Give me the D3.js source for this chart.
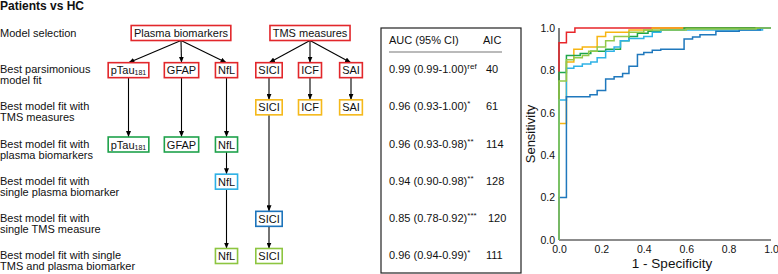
<!DOCTYPE html>
<html>
<head>
<meta charset="utf-8">
<script src="https://cdn.jsdelivr.net/npm/d3@7"></script>
<style>
  body { margin: 0; background: #fff; }
  text { font-family: "Liberation Sans", Arial, sans-serif; fill: #111; }
</style>
</head>
<body>
<div id="chart"></div>
<script>
// ---- data ----
const rowLabels = [
  ['Model selection'],
  ['Best parsimonious', 'model fit'],
  ['Best model fit with', 'TMS measures'],
  ['Best model fit with', 'plasma biomarkers'],
  ['Best model fit with', 'single plasma biomarker'],
  ['Best model fit with', 'single TMS measure'],
  ['Best model fit with single', 'TMS and plasma biomarker']
];
const rowColors = ['#e2272b', '#e2272b', '#f5b91a', '#1fa24b', '#2cb0e5', '#1d74bb', '#8dc540'];

const nodes = [
  { id: 'plasma', label: 'Plasma biomarkers', row: 0, col: 'plasma' },
  { id: 'tms', label: 'TMS measures', row: 0, col: 'tms' },
  { id: 'p1', label: 'pTau', sub: '181', row: 1, col: 'pTau' },
  { id: 'g1', label: 'GFAP', row: 1, col: 'GFAP' },
  { id: 'n1', label: 'NfL', row: 1, col: 'NfL' },
  { id: 's1', label: 'SICI', row: 1, col: 'SICI' },
  { id: 'i1', label: 'ICF', row: 1, col: 'ICF' },
  { id: 'a1', label: 'SAI', row: 1, col: 'SAI' },
  { id: 's2', label: 'SICI', row: 2, col: 'SICI' },
  { id: 'i2', label: 'ICF', row: 2, col: 'ICF' },
  { id: 'a2', label: 'SAI', row: 2, col: 'SAI' },
  { id: 'p3', label: 'pTau', sub: '181', row: 3, col: 'pTau' },
  { id: 'g3', label: 'GFAP', row: 3, col: 'GFAP' },
  { id: 'n3', label: 'NfL', row: 3, col: 'NfL' },
  { id: 'n4', label: 'NfL', row: 4, col: 'NfL' },
  { id: 's5', label: 'SICI', row: 5, col: 'SICI' },
  { id: 'n6', label: 'NfL', row: 6, col: 'NfL' },
  { id: 's6', label: 'SICI', row: 6, col: 'SICI' }
];
const edges = [
  ['plasma', 'p1'], ['plasma', 'g1'], ['plasma', 'n1'],
  ['tms', 's1'], ['tms', 'i1'], ['tms', 'a1'],
  ['s1', 's2'], ['i1', 'i2'], ['a1', 'a2'],
  ['p1', 'p3'], ['g1', 'g3'], ['n1', 'n3'],
  ['n3', 'n4'], ['n4', 'n6'],
  ['s2', 's5'], ['s5', 's6']
];

const aucText = ['0.99 (0.99-1.00)', '0.96 (0.93-1.00)', '0.96 (0.93-0.98)',
                 '0.94 (0.90-0.98)', '0.85 (0.78-0.92)', '0.96 (0.94-0.99)'];
const aucSup = ['ref', '*', '**', '**', '***', '*'];
const aicValues = [40, 61, 114, 128, 120, 111];

// ROC curves (1 - specificity, sensitivity), drawn as steps
const rocRed = [[0,0],[0,0.93],[0.035,0.98],[0.075,1],[1,1]];
const rocYellow = [[0,0],[0,0.55],[0.035,0.84],[0.07,0.90],[0.11,0.91],[0.18,0.96],[0.22,0.98],[0.33,0.99],[0.44,1],[1,1]];
const rocGreen = [[0,0],[0,0.79],[0.035,0.87],[0.1,0.88],[0.15,0.89],[0.22,0.90],[0.29,0.94],[0.33,0.96],[0.37,0.975],[0.42,0.985],[0.48,0.99],[0.59,1],[1,1]];
const rocLightBlue = [[0,0],[0,0.66],[0.035,0.81],[0.07,0.82],[0.11,0.83],[0.15,0.84],[0.18,0.86],[0.22,0.89],[0.26,0.91],[0.29,0.94],[0.33,0.95],[0.4,0.96],[0.44,0.98],[0.48,0.99],[0.96,1],[1,1]];
const rocDarkBlue = [[0,0],[0,0.2],[0.035,0.676],[0.146,0.685],[0.18,0.705],[0.22,0.76],[0.26,0.77],[0.3,0.785],[0.33,0.82],[0.37,0.875],[0.4,0.885],[0.44,0.895],[0.48,0.90],[0.59,0.948],[0.63,0.958],[0.665,0.968],[0.74,0.985],[0.85,0.99],[0.95,1],[1,1]];
const rocLightGreen = [[0,0],[0,0.75],[0.035,0.85],[0.07,0.86],[0.11,0.87],[0.14,0.89],[0.18,0.91],[0.22,0.94],[0.26,0.96],[0.33,0.98],[0.4,0.99],[0.6,0.995],[0.93,1],[1,1]];
const rocCurves = [rocRed, rocYellow, rocGreen, rocLightBlue, rocDarkBlue, rocLightGreen];
const rocColors = ['#e8262a', '#f7b512', '#1fa64b', '#2fb2e6', '#1f78bd', '#93c94a'];

const ticks = [0, 0.2, 0.4, 0.6, 0.8, 1.0];

// ---- layout ----
const width = 778, height = 274;
const svg = d3.select('#chart').append('svg')
  .attr('width', width).attr('height', height);

svg.append('text')
  .attr('x', 0).attr('y', 10)
  .attr('font-size', 12).attr('font-weight', 'bold')
  .text('Patients vs HC');

const rowY = d3.scaleLinear().domain([0, 6]).range([33, 256]);
const colX = d3.scaleOrdinal()
  .domain(['plasma', 'tms', 'pTau', 'GFAP', 'NfL', 'SICI', 'ICF', 'SAI'])
  .range([181, 310, 128.5, 181.5, 226.5, 269, 310, 351]);

// row labels
const labels = svg.append('g').attr('font-size', 11);
rowLabels.forEach((lines, i) => {
  const t = labels.append('text').attr('x', 0);
  if (lines.length === 1) {
    t.attr('y', rowY(i) + 4).text(lines[0]);
  } else {
    lines.forEach((l, j) => t.append('tspan').attr('x', 0)
      .attr('y', rowY(i) + 3 + j * 11).text(l));
  }
});

// arrow marker
svg.append('defs').append('marker')
  .attr('id', 'arr').attr('markerUnits', 'userSpaceOnUse')
  .attr('markerWidth', 6).attr('markerHeight', 5)
  .attr('refX', 6).attr('refY', 2.5).attr('orient', 'auto')
  .append('path').attr('d', 'M0,0L6,2.5L0,5Z').attr('fill', '#000');

const boxH = 15;
const nodeById = new Map(nodes.map(d => [d.id, d]));

svg.append('g').selectAll('line')
  .data(edges)
  .join('line')
  .attr('x1', d => colX(nodeById.get(d[0]).col))
  .attr('y1', d => rowY(nodeById.get(d[0]).row) + boxH / 2)
  .attr('x2', d => colX(nodeById.get(d[1]).col))
  .attr('y2', d => rowY(nodeById.get(d[1]).row) - boxH / 2)
  .attr('stroke', '#000').attr('stroke-width', 1.1)
  .attr('marker-end', 'url(#arr)');

const ng = svg.append('g').selectAll('g')
  .data(nodes)
  .join('g')
  .attr('transform', d => `translate(${colX(d.col)},${rowY(d.row)})`);

const rects = ng.append('rect')
  .attr('fill', '#fff')
  .attr('stroke', d => rowColors[d.row])
  .attr('stroke-width', 1.6);

const nt = ng.append('text')
  .attr('font-size', 11)
  .attr('text-anchor', 'middle')
  .attr('y', 4);
nt.append('tspan').text(d => d.label);
nt.filter(d => d.sub).append('tspan')
  .attr('font-size', 7).attr('dy', 1).text(d => d.sub);

nt.each(function (d) { d.w = this.getBBox().width; });
rects
  .attr('x', d => -(d.w + 5) / 2)
  .attr('y', -boxH / 2)
  .attr('width', d => d.w + 5)
  .attr('height', boxH);

// ---- table ----
const tbl = svg.append('g');
tbl.append('rect')
  .attr('x', 381).attr('y', 28).attr('width', 140).attr('height', 245)
  .attr('fill', 'none').attr('stroke', '#222').attr('stroke-width', 1.2);
tbl.append('text').attr('x', 389).attr('y', 44).attr('font-size', 11).text('AUC (95% CI)');
tbl.append('text').attr('x', 483).attr('y', 44).attr('font-size', 11).text('AIC');
tbl.append('line').attr('x1', 389).attr('x2', 502).attr('y1', 52).attr('y2', 52)
  .attr('stroke', '#777').attr('stroke-width', 1.2);

aucText.forEach((t, i) => {
  const y = rowY(i + 1) + 3;
  const tx = tbl.append('text').attr('x', 389).attr('y', y).attr('font-size', 11);
  tx.append('tspan').text(t);
  tx.append('tspan').attr('font-size', 8).attr('dy', -4).text(aucSup[i]);
  tbl.append('text').attr('x', i === 4 ? 488 : 486).attr('y', y)
    .attr('font-size', 11).text(aicValues[i]);
});

// ---- ROC ----
const x = d3.scaleLinear().domain([0, 1]).range([559, 771]);
const y = d3.scaleLinear().domain([0, 1]).range([240, 28]);

const line = d3.line()
  .x(d => x(d[0])).y(d => y(d[1]))
  .curve(d3.curveStepAfter);

svg.append('line')
  .attr('x1', x(0)).attr('x2', x(0)).attr('y1', y(0)).attr('y2', y(1))
  .attr('stroke', '#555').attr('stroke-width', 1.5);
svg.append('line')
  .attr('x1', x(0)).attr('x2', x(1)).attr('y1', y(0)).attr('y2', y(0))
  .attr('stroke', '#666').attr('stroke-width', 1.5);

svg.append('g').selectAll('path')
  .data(rocCurves)
  .join('path')
  .attr('d', line)
  .attr('fill', 'none')
  .attr('stroke', (d, i) => rocColors[i])
  .attr('stroke-width', 1.5);

const xAxis = svg.append('g')
  .attr('transform', `translate(0,${y(0)})`)
  .call(d3.axisBottom(x).tickValues(ticks).tickFormat(d3.format('.1f')).tickSize(0).tickPadding(6));
const yAxis = svg.append('g')
  .attr('transform', `translate(${x(0)},0)`)
  .call(d3.axisLeft(y).tickValues(ticks).tickFormat(d3.format('.1f')).tickSize(0).tickPadding(4));
[xAxis, yAxis].forEach(a => {
  a.select('.domain').remove();
  a.selectAll('text').attr('font-size', 10.5).attr('font-family', '"Liberation Sans", Arial, sans-serif').attr('fill', '#111');
});

svg.append('text')
  .attr('x', 672).attr('y', 268)
  .attr('text-anchor', 'middle').attr('font-size', 13.5)
  .text('1 - Specificity');
svg.append('text')
  .attr('transform', `translate(535,${y(0.5)}) rotate(-90)`)
  .attr('text-anchor', 'middle').attr('font-size', 13)
  .text('Sensitivity');
</script>
</body>
</html>
